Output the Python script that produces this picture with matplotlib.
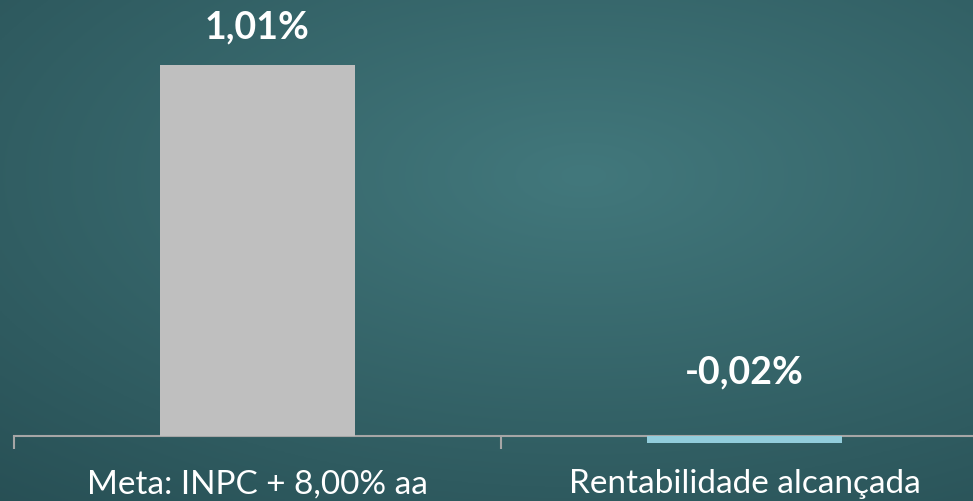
import numpy as np
import matplotlib
matplotlib.use("Agg")
import matplotlib.pyplot as plt

categories = ["Meta: INPC + 8,00% aa", "Rentabilidade alcançada"]
values = [1.01, -0.02]
value_labels = ["1,01%", "-0,02%"]
bar_colors = ["#BFBFBF", "#92CDDC"]

W, H = 973, 501
fig = plt.figure(figsize=(W / 100, H / 100), dpi=100)

# chalkboard-like background (teal, darker towards the edges)
bg = fig.add_axes([0, 0, 1, 1])
yy, xx = np.mgrid[0:1:200j, 0:1:400j]
r = np.sqrt(((xx - 0.6) / 0.8) ** 2 + ((yy - 0.35) / 0.75) ** 2)
shade = np.clip(1 - 0.6 * r, 0, 1)[..., None]
light = np.array([66, 120, 124]) / 255
dark = np.array([28, 62, 68]) / 255
img = dark + (light - dark) * shade
bg.imshow(img, aspect="auto", extent=[0, 1, 1, 0])
bg.set_axis_off()

# chart axes: category slots span x=14 to ~988 px
ppu = 371 / 1.01
ax = fig.add_axes([14 / W, 0, 974 / W, 1])
ax.patch.set_alpha(0)
ax.set_xlim(-0.5, 1.5)
ax.set_ylim(-65 / ppu, (H - 65) / ppu)

x = np.arange(len(categories))
ax.bar(x, values, width=0.4, color=bar_colors, zorder=2)

for s in ["top", "right", "left"]:
    ax.spines[s].set_visible(False)
ax.spines["bottom"].set_position(("data", 0))
ax.spines["bottom"].set_color("#A6A6A6")
ax.spines["bottom"].set_linewidth(1.5)
ax.spines["bottom"].set_zorder(1)
ax.set_yticks([])

ax.set_xticks([-0.5, 0.5, 1.5])
ax.set_xticklabels([])
ax.tick_params(axis="x", which="major", length=9, width=1.5, color="#A6A6A6")
ax.set_xticks(x, minor=True)
ax.set_xticklabels(categories, minor=True)
ax.tick_params(axis="x", which="minor", length=0, pad=24, labelsize=24,
               labelcolor="white")
for t in ax.get_xticklabels(minor=True):
    t.set_family("Lato")

offsets = [27, 46]
for xi, v, lab, off in zip(x, values, value_labels, offsets):
    base = max(v, 0)
    ax.annotate(lab, (xi, base), xytext=(0, off), textcoords="offset points",
                ha="center", va="center", color="white", fontsize=27,
                fontweight="bold", family="Lato")

fig.savefig("out.png", dpi=100)
